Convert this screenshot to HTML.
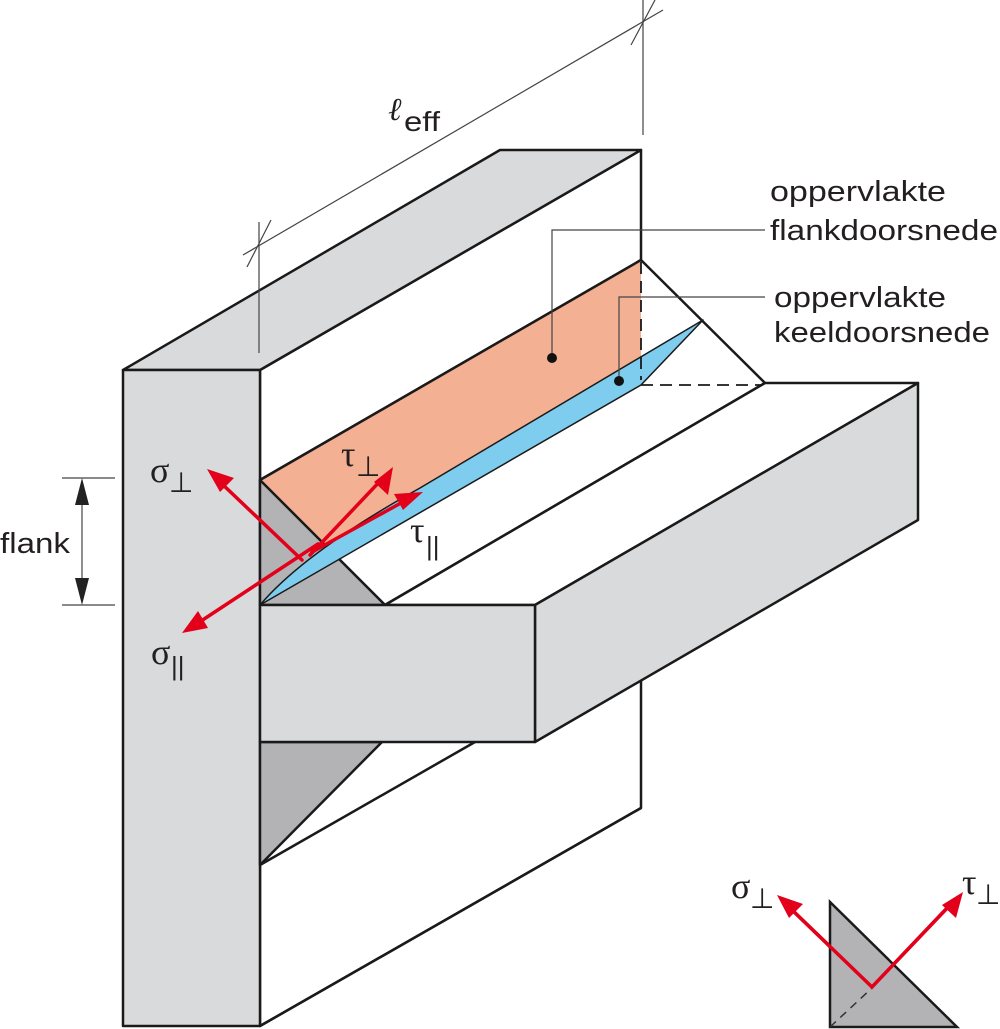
<!DOCTYPE html>
<html><head><meta charset="utf-8"><style>
html,body{margin:0;padding:0;background:#fff}
svg{display:block}
text{font-family:"Liberation Sans",sans-serif;fill:#231f20}
.g{font-family:"Liberation Serif","DejaVu Serif",serif}
</style></head><body>
<svg width="1000" height="1029" viewBox="0 0 1000 1029" xmlns="http://www.w3.org/2000/svg">
<g stroke="#1a1a1a" stroke-width="2.5" stroke-linejoin="round">
<polygon points="260,370 641,150 641,808 260,1026" fill="#fff"/>
<polygon points="123,370 500,150 641,150 260,370" fill="#d9dadc"/>
<rect x="123" y="370" width="137" height="656" fill="#d9dadc"/>
<polygon points="260,742 382,742 260,865" fill="#b3b3b5"/>
<line x1="260" y1="865" x2="475" y2="742"/>
<line x1="641" y1="808" x2="260" y2="1026"/>
<polygon points="260,480 641,260 765,383 385,605" fill="#fff"/>
<polygon points="260,480 641,260 641,385 260,605" fill="#f4b093" stroke="none"/>
<line x1="260" y1="480" x2="641" y2="260"/>
<polygon points="260,480 260,605 385,605" fill="#b3b3b5"/>
<path d="M703,320 L641,385 L260,605 Q305,552 420,488 Z" fill="#7fcdee" stroke-width="1.5"/>
<line x1="641" y1="262" x2="641" y2="380" stroke-dasharray="12,7" stroke-width="1.8"/>
<line x1="641" y1="385" x2="765" y2="385" stroke-dasharray="12,7" stroke-width="1.8"/>
<line x1="385" y1="605" x2="765" y2="383"/>
<polygon points="385,605 765,383 918,383 535,605" fill="#fff"/>
<polygon points="535,605 918,383 918,520 535,742" fill="#d9dadc"/>
<rect x="260" y="605" width="275" height="137" fill="#d9dadc"/>
</g>
<g stroke="#444" stroke-width="1.2" fill="none">
<line x1="259" y1="222" x2="259" y2="353"/>
<line x1="643" y1="0" x2="643" y2="135"/>
<line x1="243" y1="255" x2="663" y2="10"/>
<line x1="247" y1="267" x2="271" y2="220"/>
<line x1="631" y1="45" x2="655" y2="0"/>
<line x1="62" y1="478" x2="115" y2="478"/>
<line x1="62" y1="605" x2="115" y2="605"/>
<line x1="82" y1="490" x2="82" y2="593"/>
<polyline points="552,358 552,230 765,230"/>
<polyline points="619,380 619,297 765,297"/>
</g>
<polygon points="82,478 75,505 89,505" fill="#222"/>
<polygon points="82,605 75,578 89,578" fill="#222"/>
<circle cx="552" cy="358" r="5" fill="#111"/>
<circle cx="619" cy="381" r="5" fill="#111"/>
<text x="388" y="120" font-size="32" font-style="italic" class="g">ℓ</text>
<text x="404" y="131" font-size="28" textLength="36" lengthAdjust="spacingAndGlyphs">eff</text>
<text x="770" y="201" font-size="29" textLength="176" lengthAdjust="spacingAndGlyphs">oppervlakte</text>
<text x="770" y="240" font-size="29" textLength="228" lengthAdjust="spacingAndGlyphs">flankdoorsnede</text>
<text x="774" y="307" font-size="29" textLength="172" lengthAdjust="spacingAndGlyphs">oppervlakte</text>
<text x="774" y="342" font-size="29" textLength="216" lengthAdjust="spacingAndGlyphs">keeldoorsnede</text>
<text x="0" y="553" font-size="29" textLength="70" lengthAdjust="spacingAndGlyphs">flank</text>
<g stroke="#e2001a" stroke-width="3.5" fill="none" stroke-linecap="round">
<line x1="302" y1="560" x2="220" y2="482"/>
<line x1="310" y1="555" x2="383" y2="478"/>
<line x1="312" y1="552" x2="410" y2="498"/>
<line x1="318" y1="544" x2="195" y2="625"/>
<polyline points="790,908 872,987 950,905"/>
</g>
<g fill="#e2001a">
<polygon points="207,469 234,478 220,492"/>
<polygon points="393,467 388,495 374,482"/>
<polygon points="423,492 403,510 394,494"/>
<polygon points="182,633 198,611 208,628"/>
</g>
<text class="g" x="150" y="482" font-size="36">σ</text><text x="169" y="492" font-size="28">⊥</text>
<text class="g" x="341" y="466" font-size="36">τ</text><text x="356" y="476" font-size="28">⊥</text>
<text class="g" x="410" y="542" font-size="36">τ</text><text x="426" y="555" font-size="26">||</text>
<text class="g" x="151" y="664" font-size="36">σ</text><text x="171" y="675" font-size="26">||</text>
<polygon points="830,902 830,1027 957,1027" fill="#b3b3b5" stroke="#1a1a1a" stroke-width="2.5"/>
<line x1="830" y1="1027" x2="872" y2="988" stroke="#333" stroke-width="1.5" stroke-dasharray="8,6"/>
<g stroke="#e2001a" stroke-width="3.5" fill="none"><polyline points="790,908 872,987 950,905"/></g>
<polygon points="777,895 803,904 789,918" fill="#e2001a"/>
<polygon points="963,892 956,918 942,905" fill="#e2001a"/>
<text class="g" x="731" y="898" font-size="36">σ</text><text x="750" y="908" font-size="28">⊥</text>
<text class="g" x="962" y="894" font-size="36">τ</text><text x="976" y="904" font-size="28">⊥</text>
</svg>
</body></html>
